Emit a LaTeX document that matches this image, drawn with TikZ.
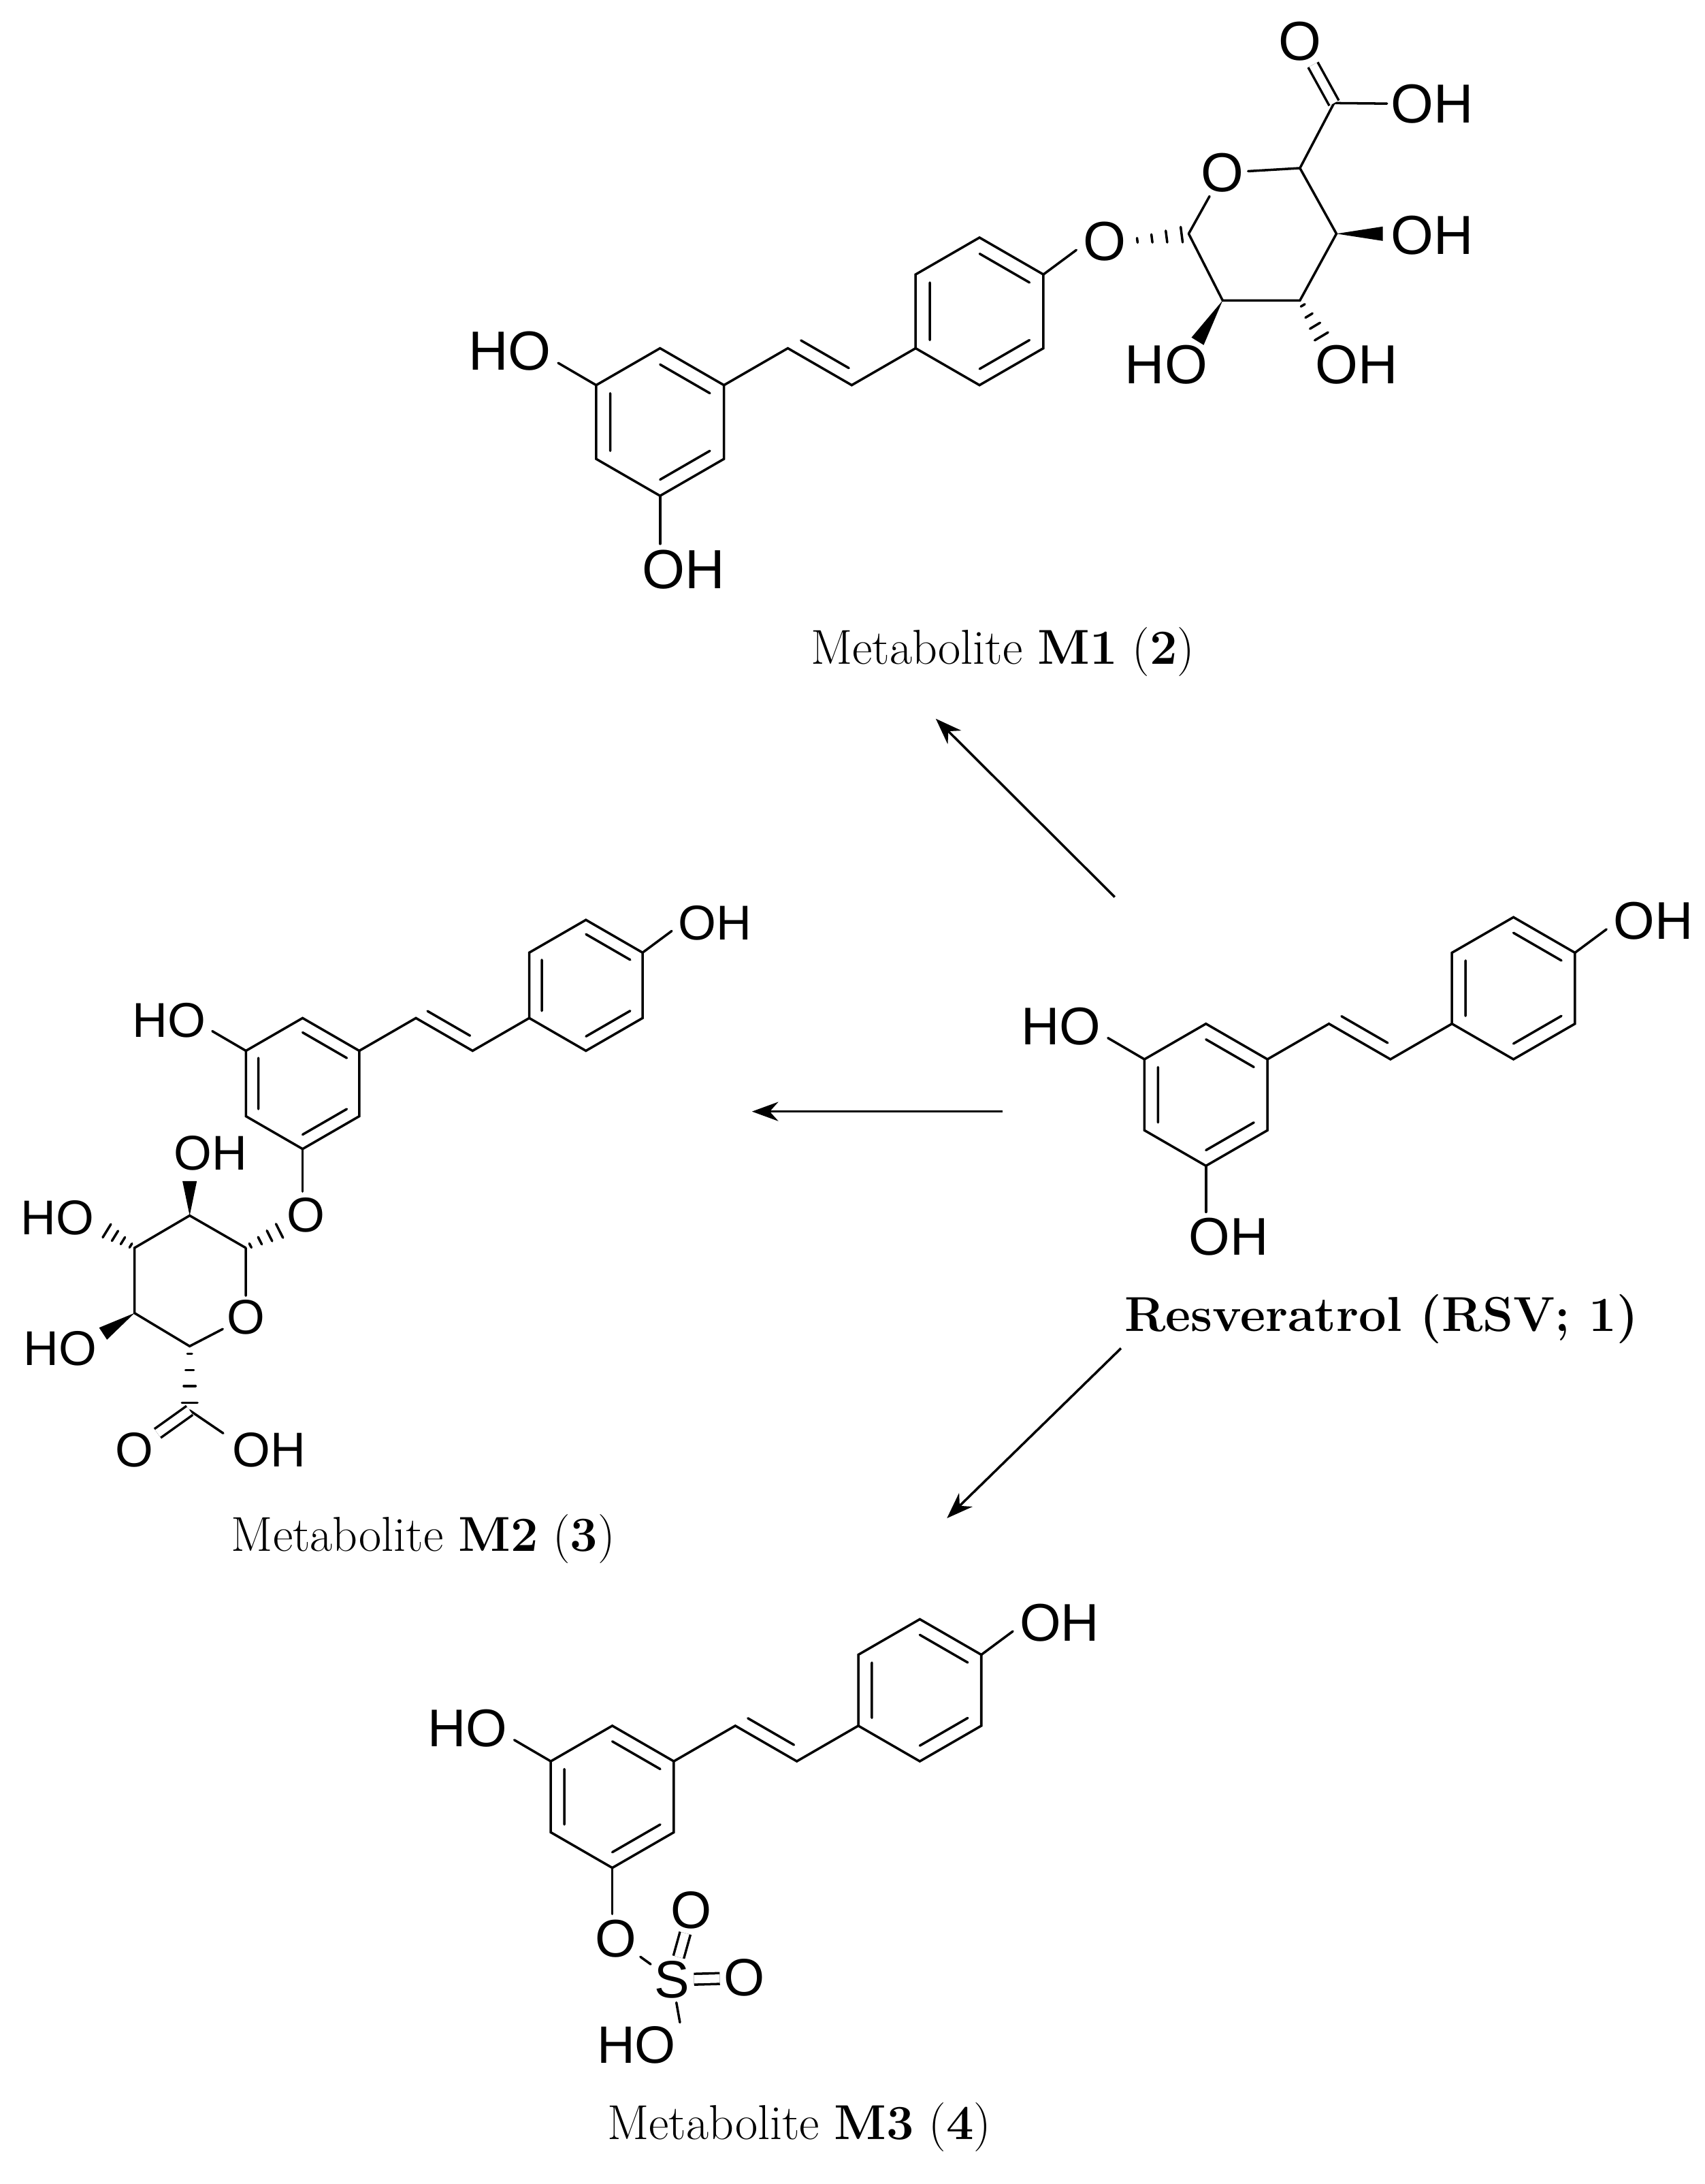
\documentclass[tikz,border=0pt]{standalone}
\usepackage{fontspec}
\newfontfamily\atomfont{Liberation Sans}
\usepackage{tikz}
\usetikzlibrary{arrows.meta,calc,positioning}

% one stilbene core: name, x, y, bond length, bottom text, right text
\newcommand{\stilbene}[6]{%
  \pgfmathsetmacro{\fsz}{0.435*#4}
  \begin{scope}[shift={(#2,#3)}, scale=#4]
    \coordinate (#1-t) at (0,-1);
    \coordinate (#1-ur) at (0.866,-0.5);
    \coordinate (#1-lr) at (0.866,0.5);
    \coordinate (#1-bt) at (0,1);
    \coordinate (#1-ll) at (-0.866,0.5);
    \coordinate (#1-ul) at (-0.866,-0.5);
    \coordinate (#1-v1) at (1.732,-1);
    \coordinate (#1-v2) at (2.598,-0.5);
    \coordinate (#1-ll2) at (3.464,-1);
    \coordinate (#1-ul2) at (3.464,-2);
    \coordinate (#1-t2) at (4.33,-2.5);
    \coordinate (#1-ur2) at (5.196,-2);
    \coordinate (#1-lr2) at (5.196,-1);
    \coordinate (#1-bt2) at (4.33,-0.5);
    % rings
    \draw[bond] (#1-t) -- (#1-ur) -- (#1-lr) -- (#1-bt) -- (#1-ll) -- (#1-ul) -- cycle;
    \draw[bond] (0,-0.78) -- (0.675,-0.39) (-0.675,0.39) -- (-0.675,-0.39) (0,0.78) -- (0.675,0.39);
    \draw[bond] (#1-ll2) -- (#1-ul2) -- (#1-t2) -- (#1-ur2) -- (#1-lr2) -- (#1-bt2) -- cycle;
    \draw[bond] (3.655,-1.11) -- (3.655,-1.89) (4.33,-2.28) -- (5.005,-1.89) (4.33,-0.72) -- (5.005,-1.11);
    % vinyl
    \draw[bond] (#1-ur) -- (#1-v1) -- (#1-v2) -- (#1-ll2);
    \draw[bond] (1.909,-1.106) -- (2.558,-0.731);
    % substituents
    \draw[bond] (#1-ul) -- (-1.38,-0.8);
    \node[atom=\fsz, anchor=east] (#1-ho) at (-1.42,-0.96) {HO};
    \draw[bond] (#1-bt) -- (0,1.65);
    \node[atom=\fsz, anchor=north west] (#1-bot) at (-0.3,1.68) {#5};
    \draw[bond] (#1-ur2) -- (5.64,-2.33);
    \node[atom=\fsz, anchor=west] (#1-rt) at (5.68,-2.45) {#6};
  \end{scope}}

% filled wedge, narrow at #1
\newcommand{\wedgebond}[2]{%
  \fill ($(#2)!3pt!90:(#1)$) -- (#1) -- ($(#2)!3pt!-90:(#1)$) -- cycle;}
% hashed wedge, narrow at #1
\newcommand{\hashbond}[2]{%
  \foreach \t in {0.12,0.37,0.62,0.88}{
    \pgfmathsetmacro{\hw}{0.6+\t*3}
    \coordinate (hsh) at ($(#1)!\t!(#2)$);
    \draw[bond] ($(hsh)!\hw pt!90:(#2)$) -- ($(hsh)!\hw pt!-90:(#2)$);
  }}

\begin{document}
\begin{tikzpicture}[
    x=0.02046cm, y=-0.02046cm,
    bond/.style = {line width=1pt, line cap=round},
    dbl/.style = {line width=1pt, double, double distance=3.5pt},
    atom/.style = {font=\atomfont\fontsize{#1pt}{#1pt}\selectfont, inner sep=1.5pt},
    atom/.default = 22,
    caption/.style = {font=\fontsize{20.5}{24}\selectfont},
    arr/.style = {line width=1pt, -{Stealth[length=11pt, width=8pt]}},
  ]
  \useasboundingbox (0,0) rectangle (1224,1568);

  % resveratrol
  \stilbene{rsv}{866}{786}{51}{OH}{OH}
  \node[caption] (caprsv) at (992,947) {\textbf{Resveratrol (RSV; 1)}};

  % metabolite M1
  \stilbene{m1}{474}{303}{53}{OH}{O}
  \coordinate (g1) at (853.6,167.8);
  \coordinate (g2) at (878,215.7);
  \coordinate (g3) at (933.5,215.7);
  \coordinate (g4) at (959.7,167.8);
  \coordinate (g5) at (933.5,120.7);
  \coordinate (g6) at (958,74);
  \node[atom=23] (go) at (878,124) {O};
  \node[atom=23] (gox) at (933.5,29.6) {O};
  \node[atom=23, anchor=west] (goh6) at (996,74.7) {OH};
  \node[atom=23, anchor=west] (goh4) at (996,169) {OH};
  \node[atom=23] (goh3) at (974.4,262) {OH};
  \node[atom=23] (goh2) at (837.4,262) {HO};
  \coordinate (w4) at (993,167.8);
  \coordinate (h3) at (951,245);
  \coordinate (w2) at (860,245);
  \draw[bond] (g1) -- (go) -- (g5) -- (g4) -- (g3) -- (g2) -- (g1);
  \draw[bond] (g5) -- (g6) -- (goh6);
  \draw[dbl] (g6) -- (gox);
  \hashbond{m1-rt.east}{g1}
  \wedgebond{g4}{w4}
  \hashbond{g3}{h3}
  \wedgebond{g2}{w2}
  \node[caption] (capm1) at (720,468) {Metabolite \textbf{M1} (\textbf{2})};

  % metabolite M2
  \stilbene{m2}{217.3}{777.9}{47}{O}{OH}
  \coordinate (s1) at (176.5,895.9);
  \coordinate (s2) at (136.2,872.7);
  \coordinate (s3) at (96.6,895.9);
  \coordinate (s4) at (96.6,942.7);
  \coordinate (s5) at (136.2,966.5);
  \coordinate (s6) at (136.2,1012.6);
  \node[atom=20.4] (so) at (176.5,945.6) {O};
  \node[atom=20.4, anchor=west] (soh2) at (122,828) {OH};
  \node[atom=20.4] (soh3) at (41.4,874.2) {HO};
  \node[atom=20.4] (soh4) at (43.2,968) {HO};
  \node[atom=20.4] (sox) at (96.6,1040.9) {O};
  \node[atom=20.4, anchor=west] (soh6) at (164,1040.9) {OH};
  \coordinate (ho1) at (204,882);
  \coordinate (w22) at (136.2,848);
  \coordinate (h33) at (74,882);
  \coordinate (w44) at (74,957.5);
  \coordinate (c6oh) at (160.3,1029);
  \draw[bond] (s1) -- (s2) -- (s3) -- (s4) -- (s5) -- (so) -- (s1);
  \draw[bond] (s6) -- (c6oh);
  \draw[dbl] (s6) -- (sox);
  \hashbond{s1}{ho1}
  \wedgebond{s2}{w22}
  \hashbond{s3}{h33}
  \wedgebond{s4}{w44}
  \hashbond{s5}{s6}
  \node[caption] (capm2) at (304,1105) {Metabolite \textbf{M2} (\textbf{3})};

  % metabolite M3
  \stilbene{m3}{439.7}{1290}{51}{O}{OH}
  \node[atom] (sS) at (482.8,1421.4) {S};
  \node[atom] (sOt) at (496.6,1371.6) {O};
  \node[atom] (sOr) at (534.5,1420) {O};
  \node[atom] (sHO) at (457,1468.3) {HO};
  \draw[bond] (m3-bot) -- (sS);
  \draw[dbl] (sS) -- (sOt);
  \draw[dbl] (sS) -- (sOr);
  \draw[bond] (sS) -- (sHO.north east);
  \node[caption] (capm3) at (574,1527) {Metabolite \textbf{M3} (\textbf{4})};

  % arrows
  \coordinate (a1s) at (800.5,644);
  \coordinate (a1e) at (672,516);
  \coordinate (a2s) at (720,798);
  \coordinate (a2e) at (540,798);
  \coordinate (a3s) at (805,968);
  \coordinate (a3e) at (680,1090);
  \draw[arr] (a1s) -- (a1e);
  \draw[arr] (a2s) -- (a2e);
  \draw[arr] (a3s) -- (a3e);
\end{tikzpicture}
\end{document}
